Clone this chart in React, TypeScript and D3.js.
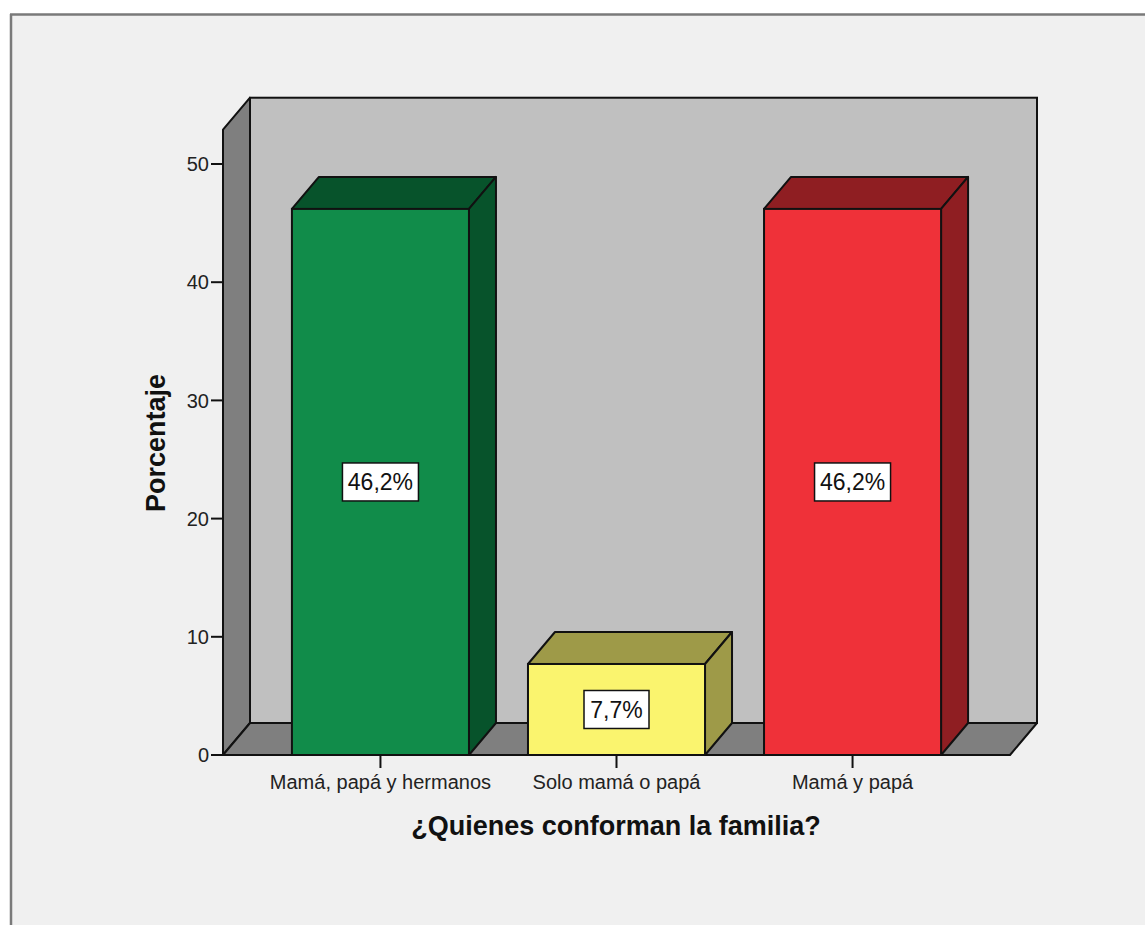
import React from "react";
import * as d3 from "d3";

const categories = ["Mamá, papá y hermanos", "Solo mamá o papá", "Mamá y papá"];
const percentages = [46.2, 7.7, 46.2];
const valueLabels = ["46,2%", "7,7%", "46,2%"];
const frontColors = ["#118c4a", "#faf46e", "#ef3139"];
const sideColors = ["#07532b", "#9e9a48", "#8f1e22"];
const yTicks = [0, 10, 20, 30, 40, 50];
const yAxisMax = 52.9;
const yTitle = "Porcentaje";
const xTitle = "¿Quienes conforman la familia?";

const W = 1145;
const H = 925;
const left = 223;
const right = 1010;
const DX = 27;
const DY = -32;
const FONT = "'Liberation Sans', Arial, sans-serif";

export default function App() {
  const y = d3.scaleLinear().domain([0, 50]).range([755, 164]);
  const x = d3
    .scaleBand<string>()
    .domain(categories)
    .range([left, right])
    .paddingInner(0.25)
    .paddingOuter(0.292);
  const y0 = y(0);
  const yTop = y(yAxisMax);
  const pts = (p: number[][]) => p.map((q) => q.join(",")).join(" ");
  const stroke = "#111";
  const sw = 2;

  return (
    <svg
      width={W}
      height={H}
      style={{ position: "absolute", left: 0, top: 0, background: "#fff" }}
      fontFamily={FONT}
    >
      <rect x={11} y={14} width={W} height={H} fill="#f0f0f0" />
      <line x1={10} y1={14.5} x2={W} y2={14.5} stroke="#7a7a7a" strokeWidth={2.5} />
      <line x1={11} y1={14} x2={11} y2={H} stroke="#7a7a7a" strokeWidth={2.5} />

      {/* back wall */}
      <rect
        x={left + DX}
        y={yTop + DY}
        width={right - left}
        height={y0 - yTop}
        fill="#c0c0c0"
        stroke={stroke}
        strokeWidth={sw}
      />
      {/* left wall */}
      <polygon
        points={pts([
          [left, y0],
          [left, yTop],
          [left + DX, yTop + DY],
          [left + DX, y0 + DY],
        ])}
        fill="#7f7f7f"
        stroke={stroke}
        strokeWidth={sw}
        strokeLinejoin="round"
      />
      {/* floor */}
      <polygon
        points={pts([
          [left, y0],
          [right, y0],
          [right + DX, y0 + DY],
          [left + DX, y0 + DY],
        ])}
        fill="#7f7f7f"
        stroke={stroke}
        strokeWidth={sw}
        strokeLinejoin="round"
      />

      {/* y ticks */}
      {yTicks.map((t) => (
        <g key={t}>
          <line x1={211} x2={left} y1={y(t)} y2={y(t)} stroke={stroke} strokeWidth={sw} />
          <text
            x={209}
            y={y(t)}
            dy="0.36em"
            textAnchor="end"
            fontSize={20}
            fill="#222"
          >
            {t}
          </text>
        </g>
      ))}

      {/* bars */}
      {categories.map((c, i) => {
        const x0 = x(c)!;
        const x1 = x0 + x.bandwidth();
        const yv = y(percentages[i]);
        const cx = x0 + x.bandwidth() / 2;
        const cy = (yv + y0) / 2;
        const lw = valueLabels[i].length > 4 ? 76 : 65;
        return (
          <g key={c}>
            <polygon
              points={pts([
                [x0, yv],
                [x0 + DX, yv + DY],
                [x1 + DX, yv + DY],
                [x1, yv],
              ])}
              fill={sideColors[i]}
              stroke={stroke}
              strokeWidth={sw}
              strokeLinejoin="round"
            />
            <polygon
              points={pts([
                [x1, yv],
                [x1 + DX, yv + DY],
                [x1 + DX, y0 + DY],
                [x1, y0],
              ])}
              fill={sideColors[i]}
              stroke={stroke}
              strokeWidth={sw}
              strokeLinejoin="round"
            />
            <rect
              x={x0}
              y={yv}
              width={x.bandwidth()}
              height={y0 - yv}
              fill={frontColors[i]}
              stroke={stroke}
              strokeWidth={sw}
            />
            <rect
              x={cx - lw / 2}
              y={cy - 19}
              width={lw}
              height={38}
              fill="#fff"
              stroke={stroke}
              strokeWidth={1.5}
            />
            <text x={cx} y={cy} dy="0.36em" textAnchor="middle" fontSize={23} fill="#111">
              {valueLabels[i]}
            </text>
            <line x1={cx} x2={cx} y1={y0} y2={y0 + 13} stroke={stroke} strokeWidth={sw} />
            <text x={cx} y={789} textAnchor="middle" fontSize={20} fill="#222">
              {c}
            </text>
          </g>
        );
      })}

      <text
        x={616}
        y={835}
        textAnchor="middle"
        fontSize={27}
        fontWeight="bold"
        fill="#111"
      >
        {xTitle}
      </text>
      <text
        transform={`translate(165,${443}) rotate(-90)`}
        textAnchor="middle"
        fontSize={27}
        fontWeight="bold"
        fill="#111"
      >
        {yTitle}
      </text>
    </svg>
  );
}
